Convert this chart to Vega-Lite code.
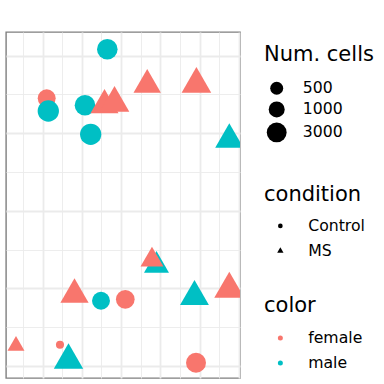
{
  "$schema": "https://vega.github.io/schema/vega-lite/v6.json",
  "width": 234,
  "height": 346,
  "autosize": "none",
  "padding": {"left": 6, "top": 32, "right": 144, "bottom": 6},
  "background": "white",
  "config": {
    "font": "DejaVu Sans",
    "view": {"stroke": "#7f7f7f", "strokeWidth": 1.4},
    "legend": {
      "titleFontSize": 21,
      "titleFontWeight": "normal",
      "titleColor": "black",
      "labelFontSize": 15.7,
      "labelColor": "black",
      "symbolOpacity": 1,
      "symbolStrokeWidth": 0
    }
  },
  "data": {
    "values": [
      {"x": 2.648, "y": 9.165, "cells": 3800, "condition": "Control", "color": "male"},
      {"x": 1.102, "y": 7.901, "cells": 1700, "condition": "Control", "color": "female"},
      {"x": 1.143, "y": 7.574, "cells": 4800, "condition": "Control", "color": "male"},
      {"x": 2.079, "y": 7.721, "cells": 3800, "condition": "Control", "color": "male"},
      {"x": 2.577, "y": 7.723, "cells": 4100, "condition": "MS", "color": "female"},
      {"x": 2.832, "y": 7.778, "cells": 6100, "condition": "MS", "color": "female"},
      {"x": 3.666, "y": 8.249, "cells": 3500, "condition": "MS", "color": "female"},
      {"x": 4.921, "y": 8.267, "cells": 6100, "condition": "MS", "color": "female"},
      {"x": 2.224, "y": 6.973, "cells": 4800, "condition": "Control", "color": "male"},
      {"x": 5.760, "y": 6.837, "cells": 4300, "condition": "MS", "color": "male"},
      {"x": 3.903, "y": 3.591, "cells": 2000, "condition": "MS", "color": "male"},
      {"x": 3.788, "y": 3.733, "cells": 1300, "condition": "MS", "color": "female"},
      {"x": 1.811, "y": 2.841, "cells": 4300, "condition": "MS", "color": "female"},
      {"x": 2.487, "y": 2.683, "cells": 1700, "condition": "Control", "color": "male"},
      {"x": 3.107, "y": 2.720, "cells": 2100, "condition": "Control", "color": "female"},
      {"x": 4.872, "y": 2.787, "cells": 5000, "condition": "MS", "color": "male"},
      {"x": 5.760, "y": 2.985, "cells": 6800, "condition": "MS", "color": "female"},
      {"x": 0.319, "y": 1.521, "cells": 460, "condition": "MS", "color": "female"},
      {"x": 1.441, "y": 1.549, "cells": 220, "condition": "Control", "color": "female"},
      {"x": 1.658, "y": 1.150, "cells": 5700, "condition": "MS", "color": "male"},
      {"x": 4.911, "y": 1.085, "cells": 3100, "condition": "Control", "color": "female"}
    ]
  },
  "mark": {"type": "point", "filled": true, "opacity": 1, "clip": true, "strokeWidth": 0},
  "encoding": {
    "x": {
      "field": "x",
      "type": "quantitative",
      "scale": {"domain": [0.064, 6.033], "nice": false, "zero": false},
      "axis": {
        "values": [0.5, 1, 1.5, 2, 2.5, 3, 3.5, 4, 4.5, 5, 5.5, 6],
        "grid": true,
        "domain": false,
        "ticks": false,
        "labels": false,
        "title": null,
        "gridColor": "#EBEBEB",
        "gridOpacity": 1,
        "gridWidth": {"condition": {"test": "datum.value % 1 === 0", "value": 1.8}, "value": 0.9}
      }
    },
    "y": {
      "field": "y",
      "type": "quantitative",
      "scale": {"domain": [0.691, 9.611], "nice": false, "zero": false},
      "axis": {
        "values": [1, 2, 3, 4, 5, 6, 7, 8, 9],
        "grid": true,
        "domain": false,
        "ticks": false,
        "labels": false,
        "title": null,
        "gridColor": "#EBEBEB",
        "gridOpacity": 1,
        "gridWidth": {"condition": {"test": "datum.value % 2 === 1", "value": 1.8}, "value": 0.9}
      }
    },
    "size": {
      "field": "cells",
      "type": "quantitative",
      "title": "Num. cells",
      "scale": {"type": "log", "domain": [200, 10000], "range": [53.3, 546]},
      "legend": {
        "orient": "none",
        "legendX": 258,
        "legendY": 12.4,
        "values": [500, 1000, 3000],
        "format": "d",
        "symbolType": "circle",
        "symbolFillColor": "black",
        "titlePadding": 15,
        "rowPadding": 4.5,
        "symbolOffset": 2.7,
        "labelOffset": 16
      }
    },
    "shape": {
      "field": "condition",
      "type": "nominal",
      "title": "condition",
      "scale": {"domain": ["Control", "MS"], "range": ["circle", "M0,-1.555L1.347,0.778L-1.347,0.778Z"]},
      "legend": {
        "orient": "none",
        "legendX": 258,
        "legendY": 152.1,
        "symbolSize": 22,
        "symbolFillColor": "black",
        "titlePadding": 13,
        "rowPadding": 8,
        "symbolOffset": 8.5,
        "labelOffset": 20
      }
    },
    "color": {
      "field": "color",
      "type": "nominal",
      "title": "color",
      "scale": {"domain": ["female", "male"], "range": ["#F8766D", "#00BFC4"]},
      "legend": {
        "orient": "none",
        "legendX": 258,
        "legendY": 263.1,
        "symbolType": "circle",
        "symbolSize": 25,
        "titlePadding": 14,
        "rowPadding": 8,
        "symbolOffset": 8.5,
        "labelOffset": 20
      }
    }
  }
}
